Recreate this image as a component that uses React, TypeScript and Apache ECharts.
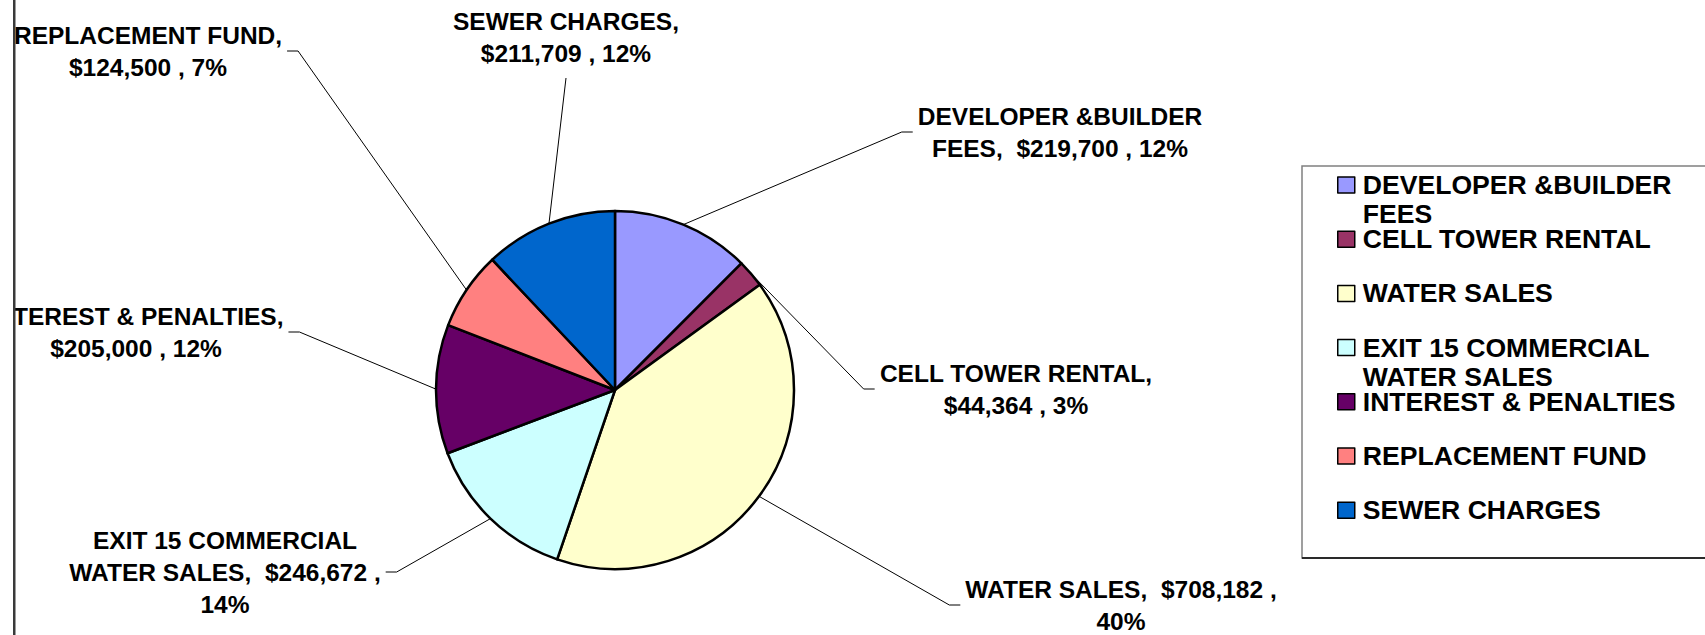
import React, { useEffect, useRef } from "react";
import * as echarts from "echarts";

// ---------- data ----------
const categories = [
  "DEVELOPER &BUILDER FEES",
  "CELL TOWER RENTAL",
  "WATER SALES",
  "EXIT 15 COMMERCIAL WATER SALES",
  "INTEREST & PENALTIES",
  "REPLACEMENT FUND",
  "SEWER CHARGES",
];
const amounts = [219700, 44364, 708182, 246672, 205000, 124500, 211709];
const sliceColors = ["#9999FF", "#993366", "#FFFFCC", "#CCFFFF", "#660066", "#FF8080", "#0066CC"];

// ---------- layout (chart pixel space) ----------
const CHART_LEFT = 13;
const CHART_W = 1705 - CHART_LEFT;
const CHART_H = 635;
const PIE_CENTER = [602, 390];
const PIE_RADIUS = 179;
const LABEL_CENTERS = [
  [1047, 132],
  [1003, 389],
  [1108, 605],
  [212, 572],
  [123, 332],
  [135, 51],
  [553, 37],
];
const LEGEND_LEFT = 1324;
const LEGEND_FIRST_CENTER = 185;
const LEGEND_STEP = 54.2;

const FONT_FAMILY = "Liberation Sans, Arial, Helvetica, sans-serif";
const LABEL_FONT_SIZE = 24.5;
const LABEL_LINE_HEIGHT = 32;
const LEGEND_FONT_SIZE = 26.6;
const LEGEND_LINE_HEIGHT = 29;
const LABEL_WRAP = 330;
const LEGEND_WRAP = 340;

let measureCtx: CanvasRenderingContext2D | null = null;
function measure(text: string, font: string): number {
  if (!measureCtx) measureCtx = document.createElement("canvas").getContext("2d");
  measureCtx!.font = font;
  return measureCtx!.measureText(text).width;
}
function wrap(text: string, font: string, maxW: number): string {
  const tokens = text.split(" ");
  const lines: string[] = [];
  let line = tokens[0];
  for (let i = 1; i < tokens.length; i++) {
    const cand = line + " " + tokens[i];
    if (tokens[i] !== "" && measure(cand.trimEnd(), font) > maxW) {
      lines.push(line.trimEnd());
      line = tokens[i];
    } else {
      line = cand;
    }
  }
  lines.push(line.trimEnd());
  return lines.join("\n");
}
function money(v: number): string {
  return String(v).replace(/\B(?=(\d{3})+(?!\d))/g, ",");
}

export default function App() {
  const ref = useRef<HTMLDivElement>(null);

  useEffect(() => {
    if (!ref.current) return;
    const chart = echarts.init(ref.current, null, { renderer: "svg" });
    const labelFont = `bold ${LABEL_FONT_SIZE}px ${FONT_FAMILY}`;
    const legendFont = `bold ${LEGEND_FONT_SIZE}px ${FONT_FAMILY}`;

    const legendTexts = categories.map((name) => wrap(name, legendFont, LEGEND_WRAP));
    const lineCounts = legendTexts.map((t) => t.split("\n").length);
    const maxLines = Math.max(...lineCounts);
    // each legend text block is centred on its swatch; blank lines above keep the
    // first line level with the swatch, padding keeps every item the same height
    const boxH = (2 * maxLines - 1) * LEGEND_LINE_HEIGHT;

    const legends = categories.map((name, i) => {
      const n = lineCounts[i];
      const shown = "\n".repeat(n - 1) + legendTexts[i];
      const pad = (boxH - (2 * n - 1) * LEGEND_LINE_HEIGHT) / 2;
      return {
        orient: "vertical",
        left: LEGEND_LEFT,
        top: LEGEND_FIRST_CENTER + i * LEGEND_STEP - boxH / 2,
        padding: 0,
        itemWidth: 17,
        itemHeight: 16,
        icon: "rect",
        itemStyle: { borderColor: "#000", borderWidth: 1.5 },
        data: [{ name, textStyle: { padding: [pad, 0, pad, 3] } }],
        formatter: () => shown,
        textStyle: {
          fontFamily: FONT_FAMILY,
          fontSize: LEGEND_FONT_SIZE,
          fontWeight: "bold",
          color: "#000",
          lineHeight: LEGEND_LINE_HEIGHT,
        },
      };
    });

    const option: any = {
      animation: false,
      color: sliceColors,
      legend: legends,
      graphic: [
        {
          type: "line",
          z: 100,
          shape: { x1: 1.25, y1: 0, x2: 1.25, y2: CHART_H },
          style: { stroke: "#3a3a3a", lineWidth: 2.5 },
        },
        {
          type: "rect",
          z: 0,
          shape: { x: 1289, y: 166, width: 460, height: 392 },
          style: { fill: "none", stroke: "#808080", lineWidth: 1.5 },
        },
        {
          type: "line",
          z: 1,
          shape: { x1: 1289, y1: 558, x2: CHART_W, y2: 558 },
          style: { stroke: "#2a2a2a", lineWidth: 2 },
        },
      ],
      series: [
        {
          type: "pie",
          center: PIE_CENTER,
          radius: PIE_RADIUS,
          startAngle: 90,
          clockwise: true,
          avoidLabelOverlap: false,
          emphasis: { disabled: true },
          itemStyle: { borderColor: "#000", borderWidth: 2.5 },
          data: categories.map((name, i) => ({ name, value: amounts[i] })),
          label: {
            show: true,
            position: "outside",
            overflow: "none",
            fontFamily: FONT_FAMILY,
            fontSize: LABEL_FONT_SIZE,
            fontWeight: "bold",
            color: "#000",
            lineHeight: LABEL_LINE_HEIGHT,
            formatter: (p: any) =>
              wrap(
                `${p.name},  $${money(p.value)} , ${Math.round(p.percent)}%`,
                labelFont,
                LABEL_WRAP
              ),
          },
          labelLine: {
            show: true,
            smooth: false,
            lineStyle: { color: "#000", width: 1 },
          },
          labelLayout: (params: any) => {
            const i = params.dataIndex;
            const [cx, cy] = LABEL_CENTERS[i];
            const w = params.labelRect.width;
            const h = params.labelRect.height;
            const pts = params.labelLinePoints;
            const out: any = { x: cx, y: cy, align: "center", verticalAlign: "middle" };
            if (pts && pts.length) {
              const edge = pts[0];
              if (Math.abs(cx - edge[0]) < w / 2) {
                out.labelLinePoints = [edge, [cx, cy + h / 2 + 9]];
              } else if (cx > edge[0]) {
                const ex = cx - w / 2 - 5;
                out.labelLinePoints = [edge, [ex - 11, cy], [ex, cy]];
              } else {
                const ex = cx + w / 2 + 5;
                out.labelLinePoints = [edge, [ex + 11, cy], [ex, cy]];
              }
            }
            return out;
          },
        },
      ],
    };
    chart.setOption(option);
    return () => chart.dispose();
  }, []);

  return (
    <div
      style={{
        position: "fixed",
        left: 0,
        top: 0,
        width: 1705,
        height: 635,
        background: "#fff",
        overflow: "hidden",
      }}
    >
      <div
        ref={ref}
        style={{
          position: "absolute",
          left: CHART_LEFT,
          top: 0,
          width: CHART_W,
          height: CHART_H,
          overflow: "hidden",
        }}
      />
    </div>
  );
}
